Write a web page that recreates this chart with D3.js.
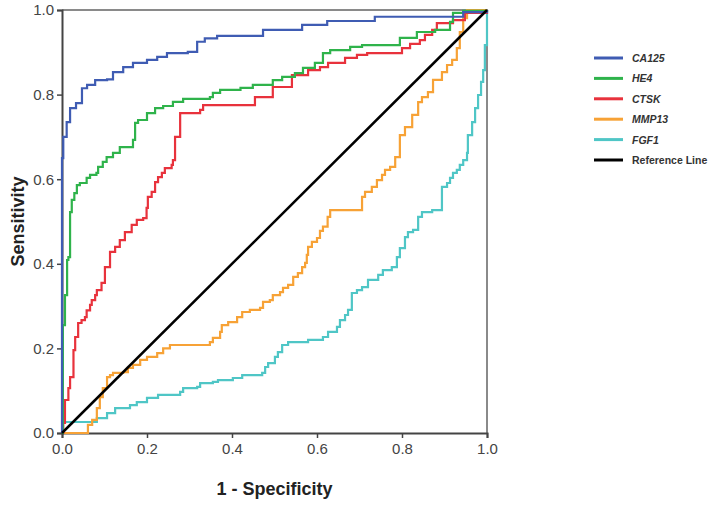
<!DOCTYPE html>
<html>
<head>
<meta charset="utf-8">
<script src="https://cdn.jsdelivr.net/npm/d3@7"></script>
<style>
  body { margin: 0; background: #fff; }
  text { font-family: "Liberation Sans", Arial, sans-serif; }
</style>
</head>
<body>
<div id="roc-chart"></div>
<script>

// series names / colours shown in the legend
var seriesNames = ["CA125", "HE4", "CTSK", "MMP13", "FGF1"];
var seriesColors = ["#3f5cb3", "#2fb34b", "#e8323c", "#f7a236", "#4fc6c6"];

// ROC points [1 - specificity, sensitivity]
var ca125 = [[0,0],[0,0.65],[0.003,0.70],[0.011,0.735],[0.019,0.768],[0.033,0.78],[0.047,0.815],[0.059,0.823],
  [0.078,0.834],[0.106,0.836],[0.12,0.853],[0.144,0.865],[0.167,0.875],[0.2,0.882],[0.224,0.889],[0.247,0.898],
  [0.296,0.901],[0.318,0.925],[0.336,0.933],[0.365,0.939],[0.473,0.953],[0.565,0.965],[0.624,0.974],
  [0.736,0.984],[0.944,0.995],[1,1]];

var he4 = [[0,0],[0.002,0.255],[0.007,0.326],[0.012,0.409],[0.015,0.416],[0.019,0.522],[0.023,0.551],[0.029,0.567],
  [0.035,0.586],[0.042,0.591],[0.058,0.603],[0.066,0.61],[0.081,0.615],[0.085,0.629],[0.096,0.641],[0.105,0.652],
  [0.12,0.662],[0.136,0.676],[0.167,0.693],[0.172,0.733],[0.179,0.74],[0.2,0.756],[0.219,0.768],[0.238,0.773],
  [0.261,0.783],[0.285,0.79],[0.348,0.794],[0.355,0.804],[0.372,0.811],[0.42,0.816],[0.449,0.823],[0.496,0.834],
  [0.518,0.842],[0.548,0.851],[0.567,0.863],[0.595,0.875],[0.614,0.898],[0.631,0.905],[0.678,0.913],[0.706,0.917],
  [0.795,0.934],[0.835,0.948],[0.878,0.953],[0.913,0.972],[0.92,0.993],[0.944,0.998],[1,1]];

var ctsk = [[0,0],[0.003,0.024],[0.007,0.078],[0.015,0.106],[0.019,0.132],[0.027,0.196],[0.031,0.227],[0.038,0.26],
  [0.046,0.267],[0.054,0.274],[0.058,0.29],[0.066,0.303],[0.07,0.314],[0.078,0.326],[0.082,0.338],[0.093,0.355],
  [0.101,0.392],[0.113,0.428],[0.125,0.44],[0.136,0.456],[0.148,0.475],[0.164,0.492],[0.176,0.504],[0.191,0.508],
  [0.199,0.532],[0.202,0.558],[0.211,0.57],[0.219,0.593],[0.226,0.605],[0.235,0.615],[0.242,0.626],[0.258,0.634],
  [0.261,0.645],[0.266,0.70],[0.278,0.756],[0.325,0.764],[0.332,0.775],[0.454,0.794],[0.496,0.818],[0.541,0.846],
  [0.579,0.858],[0.607,0.865],[0.626,0.875],[0.666,0.887],[0.694,0.894],[0.718,0.898],[0.8,0.91],[0.819,0.92],
  [0.842,0.929],[0.854,0.941],[0.871,0.953],[0.882,0.969],[0.92,0.976],[0.948,0.993],[1,1]];

var mmp13 = [[0,0],[0.061,0.019],[0.071,0.031],[0.082,0.059],[0.089,0.085],[0.096,0.106],[0.106,0.132],[0.113,0.137],
  [0.12,0.142],[0.144,0.144],[0.155,0.154],[0.167,0.161],[0.184,0.173],[0.2,0.18],[0.224,0.189],[0.238,0.2],
  [0.254,0.208],[0.348,0.215],[0.355,0.225],[0.372,0.239],[0.376,0.255],[0.391,0.262],[0.412,0.274],[0.424,0.286],
  [0.442,0.291],[0.466,0.296],[0.473,0.31],[0.489,0.314],[0.496,0.326],[0.513,0.333],[0.52,0.343],[0.532,0.35],
  [0.544,0.369],[0.555,0.378],[0.565,0.392],[0.572,0.402],[0.576,0.421],[0.579,0.44],[0.588,0.452],[0.6,0.461],
  [0.607,0.478],[0.614,0.488],[0.625,0.511],[0.631,0.527],[0.706,0.558],[0.713,0.57],[0.729,0.582],[0.741,0.598],
  [0.753,0.61],[0.76,0.622],[0.772,0.629],[0.784,0.652],[0.795,0.704],[0.807,0.723],[0.824,0.752],[0.838,0.782],
  [0.847,0.794],[0.861,0.806],[0.873,0.835],[0.894,0.853],[0.906,0.87],[0.918,0.882],[0.929,0.91],[0.936,0.948],
  [0.944,0.981],[0.953,1],[1,1]];

var fgf1 = [[0,0],[0.002,0.026],[0.082,0.035],[0.106,0.047],[0.125,0.059],[0.16,0.066],[0.176,0.073],[0.2,0.083],
  [0.226,0.09],[0.278,0.097],[0.285,0.106],[0.318,0.109],[0.325,0.118],[0.355,0.121],[0.367,0.125],[0.402,0.13],
  [0.424,0.137],[0.471,0.142],[0.478,0.156],[0.485,0.165],[0.501,0.18],[0.508,0.191],[0.518,0.208],[0.532,0.215],
  [0.579,0.22],[0.614,0.227],[0.626,0.239],[0.647,0.251],[0.654,0.267],[0.666,0.279],[0.673,0.291],[0.682,0.331],
  [0.694,0.338],[0.706,0.345],[0.72,0.362],[0.744,0.374],[0.755,0.385],[0.776,0.392],[0.788,0.416],[0.795,0.437],
  [0.807,0.463],[0.814,0.475],[0.826,0.48],[0.838,0.511],[0.847,0.522],[0.871,0.527],[0.894,0.582],[0.906,0.591],
  [0.913,0.603],[0.92,0.615],[0.929,0.622],[0.936,0.634],[0.944,0.645],[0.953,0.662],[0.955,0.704],[0.965,0.735],
  [0.972,0.768],[0.979,0.799],[0.986,0.83],[0.991,0.858],[0.995,0.917],[1,1]];

var refLine = [[0,0],[1,1]];
var tickValues = [0, 0.2, 0.4, 0.6, 0.8, 1.0];

var width = 710;
var height = 506;
var margin = ({top: 10, right: 223, bottom: 73, left: 62});

var svg = d3.select("#roc-chart")
  .append("svg")
    .attr("width", width)
    .attr("height", height)

var xScale = d3.scaleLinear()
  .domain([0, 1])
  .range([margin.left, width - margin.right])

var yScale = d3.scaleLinear()
  .domain([0, 1])
  .range([height - margin.bottom, margin.top])

// grey frame on top and right
svg.append("path")
  .attr("d", "M" + xScale(0) + "," + yScale(1) + "H" + xScale(1) + "V" + yScale(0))
  .attr("fill", "none")
  .attr("stroke", "#8a8a8a")
  .attr("stroke-width", 2)

var xAxis = svg.append("g")
  .attr("transform", `translate(0,${yScale(0)})`)
  .call(d3.axisBottom(xScale).tickValues(tickValues).tickFormat(d3.format(".1f")).tickSize(5).tickPadding(5))

var yAxis = svg.append("g")
  .attr("transform", `translate(${xScale(0)},0)`)
  .call(d3.axisLeft(yScale).tickValues(tickValues).tickFormat(d3.format(".1f")).tickSize(5).tickPadding(3))

svg.selectAll(".domain").attr("stroke", "#444").attr("stroke-width", 2)
svg.selectAll(".tick line").attr("stroke", "#444").attr("stroke-width", 1.5)
svg.selectAll(".tick text")
  .attr("font-family", "Liberation Sans, Arial, sans-serif")
  .attr("font-size", 15)
  .attr("fill", "#444")

var line = d3.line().curve(d3.curveStepAfter)
  .x(d => xScale(d[0]))
  .y(d => yScale(d[1]))

var allSeries = [ca125, he4, ctsk, mmp13, fgf1];
// draw back to front so CA125 ends up on top
for (var i = allSeries.length - 1; i >= 0; i--) {
  svg.append("path")
    .datum(allSeries[i])
    .attr("fill", "none")
    .attr("stroke", seriesColors[i])
    .attr("stroke-width", 2.2)
    .attr("d", line)
}

svg.append("path")
  .datum(refLine)
  .attr("fill", "none")
  .attr("stroke", "#000")
  .attr("stroke-width", 2.5)
  .attr("d", d3.line().x(d => xScale(d[0])).y(d => yScale(d[1])))

// axis titles
svg.append("text")
  .attr("text-anchor", "middle")
  .attr("x", (xScale(0) + xScale(1)) / 2)
  .attr("y", 495)
  .attr("font-size", 18)
  .attr("font-weight", "bold")
  .attr("fill", "#222")
  .text("1 - Specificity");

svg.append("text")
  .attr("text-anchor", "middle")
  .attr("transform", `translate(24,${(yScale(0) + yScale(1)) / 2}) rotate(-90)`)
  .attr("font-size", 18)
  .attr("font-weight", "bold")
  .attr("fill", "#222")
  .text("Sensitivity");

// legend
var legendNames = seriesNames.concat(["Reference Line"]);
var legendColors = seriesColors.concat(["#000"]);
var legend = svg.append("g").attr("transform", "translate(594,58)")

legendNames.forEach(function(name, i) {
  var row = legend.append("g").attr("transform", `translate(0,${i * 20.4})`)
  row.append("line")
    .attr("x1", 0).attr("x2", 29)
    .attr("y1", 0).attr("y2", 0)
    .attr("stroke", legendColors[i])
    .attr("stroke-width", 3)
  row.append("text")
    .attr("x", 38)
    .attr("y", 4)
    .attr("font-size", 10.5)
    .attr("font-weight", "bold")
    .attr("font-style", i < seriesNames.length ? "italic" : "normal")
    .attr("fill", "#333")
    .text(name)
});

</script>
</body>
</html>
